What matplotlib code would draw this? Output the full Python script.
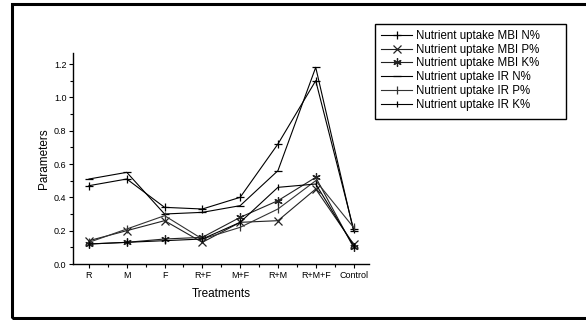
import matplotlib
matplotlib.use("Agg")
import matplotlib.pyplot as plt
from matplotlib.patches import Rectangle

plt.rcParams['font.family'] = ['Liberation Sans', 'DejaVu Sans']

categories = ["R", "M", "F", "R+F", "M+F", "R+M", "R+M+F", "Control"]
mbi_n = [0.47, 0.51, 0.34, 0.33, 0.40, 0.72, 1.10, 0.21]
mbi_p = [0.14, 0.20, 0.26, 0.13, 0.25, 0.26, 0.45, 0.12]
mbi_k = [0.12, 0.13, 0.15, 0.16, 0.28, 0.38, 0.52, 0.10]
ir_n = [0.51, 0.55, 0.30, 0.31, 0.35, 0.56, 1.18, 0.20]
ir_p = [0.13, 0.21, 0.29, 0.15, 0.22, 0.33, 0.50, 0.22]
ir_k = [0.12, 0.13, 0.14, 0.15, 0.25, 0.46, 0.48, 0.11]
labels = ["Nutrient uptake MBI N%", "Nutrient uptake MBI P%", "Nutrient uptake MBI K%",
          "Nutrient uptake IR N%", "Nutrient uptake IR P%", "Nutrient uptake IR K%"]

W, H = 586, 320
fig = plt.figure(figsize=(W / 100, H / 100), dpi=100)
ax = fig.add_axes([73.3/W, 1-264/H, (369-73.3)/W, (264-52.7)/H])

x = list(range(len(categories)))
series = [mbi_n, mbi_p, mbi_k, ir_n, ir_p, ir_k]
markers = ['+', 'x', (6, 2, 0), '_', '|', '|']
msizes = [6, 6, 6, 6, 6, 4]
colors = ['black', '#222222', '#222222', 'black', '#333333', 'black']
for s, m, ms, c, lab in zip(series, markers, msizes, colors, labels):
    ax.plot(x, s, color=c, lw=0.8, marker=m, markersize=ms, markeredgewidth=0.9,
            label=lab)

ax.set_xlim(-0.415, 7.41)
ax.set_ylim(0, 1.268)
ax.set_xticks(x)
ax.set_xticklabels(categories)
ax.set_xticks([i + 0.5 for i in range(7)], minor=True)
ax.set_yticks([0.0, 0.2, 0.4, 0.6, 0.8, 1.0, 1.2])
ax.set_yticklabels(["0.0", "0.2", "0.4", "0.6", "0.8", "1.0", "1.2"])
ax.set_yticks([0.1, 0.3, 0.5, 0.7, 0.9, 1.1], minor=True)
ax.tick_params(axis='both', which='major', labelsize=6.5, length=3, width=0.8, pad=2)
ax.tick_params(axis='both', which='minor', length=2, width=0.8)
for side in ['top', 'right']:
    ax.spines[side].set_visible(False)
for side in ['left', 'bottom']:
    ax.spines[side].set_linewidth(1.0)
ax.set_xlabel("Treatments", fontsize=8.5, labelpad=6)
ax.set_ylabel("Parameters", fontsize=8.5, labelpad=3)

leg = fig.legend(loc='upper left', bbox_to_anchor=(381/W, 1-30/H),
                 fontsize=8.3, frameon=False, numpoints=1,
                 handlelength=2.7, handletextpad=0.3, labelspacing=0.15,
                 borderpad=0.0, borderaxespad=0)

# legend box
fig.patches.append(Rectangle((375/W, 1-119/H), (566-375)/W, (119-24)/H,
                             transform=fig.transFigure, fill=False,
                             edgecolor='black', linewidth=1.0))

# outer frame
fig.patches.append(Rectangle((12/W, 2/H), 1 - 12/W + 0.01, (316 - 2)/H,
                             transform=fig.transFigure, fill=False,
                             edgecolor='black', linewidth=2.2))

fig.savefig("out.png", dpi=100)
